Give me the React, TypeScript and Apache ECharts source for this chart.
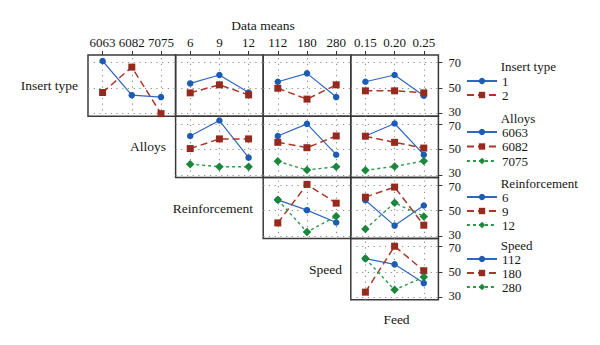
import React, { useEffect, useRef } from 'react';
import * as echarts from 'echarts';

// factor levels (tick labels)
const alloyLevels = ['6063', '6082', '7075'];
const reinforcementLevels = ['6', '9', '12'];
const speedLevels = ['112', '180', '280'];
const feedLevels = ['0.15', '0.20', '0.25'];
const insertLevels = ['1', '2'];
const yTicks = [30, 50, 70];

// Row 1: Insert type (1, 2)
const insertByAlloy = [[71.3, 44.5, 43.0], [46.6, 66.5, 30.0]];
const insertByReinf = [[53.7, 60.3, 46.6], [46.3, 52.6, 44.7]];
const insertBySpeed = [[55.0, 61.6, 43.0], [49.9, 41.4, 52.6]];
const insertByFeed = [[55.0, 60.3, 44.0], [47.9, 47.9, 46.3]];
// Row 2: Alloys (6063, 6082, 7075)
const alloyByReinf = [[60.5, 72.6, 43.5], [50.6, 58.2, 58.2], [38.4, 36.4, 36.4]];
const alloyBySpeed = [[60.5, 70.0, 45.8], [55.5, 51.3, 60.5], [40.6, 33.8, 36.4]];
const alloyByFeed = [[60.5, 70.3, 45.8], [60.3, 55.5, 51.0], [33.6, 36.6, 40.9]];
// Row 3: Reinforcement (6, 9, 12)
const reinfBySpeed = [[58.4, 50.3, 40.6], [40.3, 70.5, 55.8], [58.4, 33.2, 45.5]];
const reinfByFeed = [[58.1, 38.2, 54.0], [60.5, 68.4, 38.5], [35.6, 56.1, 45.3]];
// Row 4: Speed (112, 180, 280)
const speedByFeed = [[60.3, 55.8, 41.1], [34.0, 70.0, 50.8], [60.3, 35.8, 45.8]];

const FONT = 'Liberation Serif';
const TEXT = '#161616';
const MARK_COLORS = ['#1d5cb4', '#962a1f', '#1a873c'];
const LINE_COLORS = ['#3166c0', '#a8392a', '#2f9a4c'];
const SYMBOLS = ['circle', 'rect', 'diamond'];
const SYMBOL_SIZES = [6.5, 7, 8.5];
const DASHES: any[] = ['solid', [7, 4], [3, 3]];
const LINE_WIDTHS = [1.2, 1.5, 1.4];

const columns = [alloyLevels, reinforcementLevels, speedLevels, feedLevels];
const rows = [
  { name: 'Insert type', levels: insertLevels, startCol: 0, data: [insertByAlloy, insertByReinf, insertBySpeed, insertByFeed] },
  { name: 'Alloys', levels: alloyLevels, startCol: 1, data: [alloyByReinf, alloyBySpeed, alloyByFeed] },
  { name: 'Reinforcement', levels: reinforcementLevels, startCol: 2, data: [reinfBySpeed, reinfByFeed] },
  { name: 'Speed', levels: speedLevels, startCol: 3, data: [speedByFeed] },
];

const COL_LEFT = [88, 175.6, 263.2, 350.8];
const COL_W = 87.6;
const ROW_TOP = [55, 116.2, 177.4, 238.6];
const ROW_H = 61.2;
const LEG_TOP = [74, 124.75, 190, 252];
const LEG_LH = [14, 14.5, 14, 14];
const LEG_TITLE_Y = [66, 118, 183.5, 245.5];

function buildOption() {
  const grids: any[] = [];
  const xAxes: any[] = [];
  const yAxes: any[] = [];
  const series: any[] = [];
  rows.forEach((row, r) => {
    row.data.forEach((panel, k) => {
      const c = row.startCol + k;
      const gi = grids.length;
      grids.push({
        left: COL_LEFT[c], top: ROW_TOP[r], width: COL_W, height: ROW_H,
        show: true, borderColor: '#3a3a3a', borderWidth: 1.5, backgroundColor: 'transparent',
      });
      xAxes.push({
        gridIndex: gi, type: 'category', data: columns[c], boundaryGap: true, position: 'top',
        axisLine: { show: false },
        axisTick: { show: r === 0, alignWithLabel: true, length: 4, inside: false, lineStyle: { color: '#333', width: 1 } },
        axisLabel: { show: r === 0, margin: 6, fontFamily: FONT, fontSize: 13, color: TEXT, interval: 0 },
        splitLine: { show: false },
      });
      const topPad = r === 0 ? 0 : 4;
      yAxes.push({
        gridIndex: gi, type: 'value', min: 28, max: 76, position: 'right',
        axisLine: { show: false },
        splitLine: { show: false },
        axisTick: { show: c === 3, customValues: yTicks, length: 4, inside: false, lineStyle: { color: '#333', width: 1 } },
        axisLabel: {
          show: c === 3, customValues: yTicks, margin: 10, fontFamily: FONT, fontSize: 12.5, color: TEXT,
          formatter: (v: number) => (v === 70 ? `{t|${v}}` : v === 30 ? `{b|${v}}` : `{m|${v}}`),
          rich: {
            t: { fontFamily: FONT, fontSize: 12.5, color: TEXT, lineHeight: 10, padding: [topPad, 0, 0, 0] },
            m: { fontFamily: FONT, fontSize: 12.5, color: TEXT, lineHeight: 10 },
            b: { fontFamily: FONT, fontSize: 12.5, color: TEXT, lineHeight: 10, padding: [0, 0, 3, 0] },
          },
        },
      });
      panel.forEach((vals, s) => {
        series.push({
          type: 'line', name: row.levels[s], xAxisIndex: gi, yAxisIndex: gi, data: vals,
          symbol: SYMBOLS[s], symbolSize: SYMBOL_SIZES[s], showSymbol: true,
          itemStyle: { color: MARK_COLORS[s] },
          lineStyle: { color: LINE_COLORS[s], width: LINE_WIDTHS[s], type: DASHES[s] },
          z: 3,
          markLine: s === 0 ? {
            silent: true, symbol: ['none', 'none'], animation: false,
            label: { show: false },
            lineStyle: { color: '#8a8a8a', width: 1.1, type: [1.2, 4.5] },
            emphasis: { disabled: true },
            data: [
              ...columns[c].map((_, i) => ({ xAxis: i })),
              ...yTicks.map((v) => ({ yAxis: v })),
            ],
            z: 1,
          } : undefined,
        });
      });
    });
  });

  const legends = rows.map((row, r) => ({
    data: row.levels, orient: 'vertical', left: 466, top: LEG_TOP[r],
    itemWidth: 30, itemHeight: 8, itemGap: 0, padding: 0, selectedMode: false,
    textStyle: { fontFamily: FONT, fontSize: 13, color: TEXT, lineHeight: LEG_LH[r] },
  }));

  const txt = (text: string, x: number, y: number, align: string, size = 13.5) => ({
    type: 'text', x, y, silent: true,
    style: { text, fill: TEXT, fontFamily: FONT, fontSize: size, fontWeight: 'normal', align, verticalAlign: 'middle' },
  });
  const graphics: any[] = [
    txt('Data means', 263, 25, 'center'),
    txt('Insert type', 78, ROW_TOP[0] + ROW_H / 2, 'right'),
    txt('Alloys', 166, ROW_TOP[1] + ROW_H / 2, 'right'),
    txt('Reinforcement', 253, ROW_TOP[2] + ROW_H / 2, 'right'),
    txt('Speed', 342, ROW_TOP[3] + ROW_H / 2, 'right'),
    txt('Feed', 396.5, 319.5, 'center'),
    ...rows.map((row, r) => txt(row.name, 500.7, LEG_TITLE_Y[r], 'left', 13)),
  ];

  return {
    animation: false,
    backgroundColor: '#ffffff',
    grid: grids,
    xAxis: xAxes,
    yAxis: yAxes,
    series,
    legend: legends,
    graphic: graphics,
  };
}

export default function App() {
  const ref = useRef<HTMLDivElement>(null);
  useEffect(() => {
    if (!ref.current) return;
    const chart = echarts.init(ref.current, undefined, { renderer: 'svg' });
    chart.setOption(buildOption() as any);
    return () => chart.dispose();
  }, []);
  return <div ref={ref} style={{ position: 'fixed', left: 0, top: 0, width: 600, height: 345, background: '#fff' }} />;
}
